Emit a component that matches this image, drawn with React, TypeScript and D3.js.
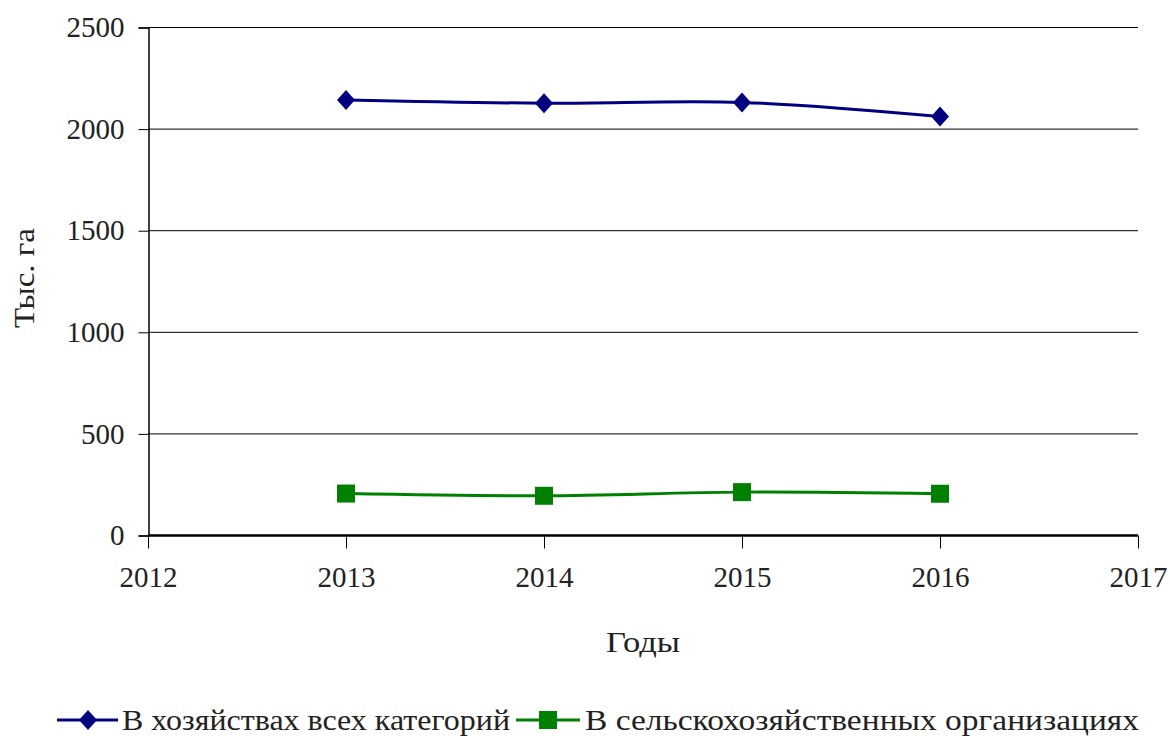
import * as d3 from 'd3';
import React, { useRef, useEffect } from 'react';

const years = [2013, 2014, 2015, 2016];
const allFarms = [2141, 2125, 2129, 2059];
const agriOrgs = [204, 193, 211, 203];
const yTicks = [0, 500, 1000, 1500, 2000, 2500];
const xTicks = [2012, 2013, 2014, 2015, 2016, 2017];
const seriesNames = ['В хозяйствах всех категорий', 'В сельскохозяйственных организациях'];

const App = () => {
  const ref = useRef<SVGSVGElement>(null);
  const width = 1170;
  const height = 736;
  const margin = { top: 27, right: 32, bottom: 201, left: 148 };
  const font = '"Liberation Serif", "Times New Roman", serif';

  useEffect(() => {
    const svg = d3.select(ref.current);
    svg.selectAll('*').remove();

    const x = d3.scaleLinear().domain([2012, 2017]).range([margin.left, width - margin.right]);
    const y = d3.scaleLinear().domain([0, 2500]).range([height - margin.bottom, margin.top]);

    // grid lines
    svg.append('g')
      .selectAll('line')
      .data(yTicks.filter((d) => d > 0))
      .join('line')
      .attr('x1', margin.left)
      .attr('x2', width - margin.right)
      .attr('y1', (d) => y(d) + 0.5)
      .attr('y2', (d) => y(d) + 0.5)
      .attr('stroke', '#000')
      .attr('stroke-width', 1);

    // Y axis
    const yAxis = svg.append('g')
      .attr('transform', 'translate(' + (margin.left + 0.5) + ',0.5)')
      .call(d3.axisLeft(y).tickValues(yTicks).tickSize(10).tickPadding(14).tickFormat(d3.format('d')));
    yAxis.select('.domain').attr('stroke', '#000').attr('stroke-width', 1.5);
    yAxis.selectAll('text').style('font-family', font).style('font-size', '29px').attr('fill', '#222');

    // X axis
    const xAxis = svg.append('g')
      .attr('transform', 'translate(0,' + (y(0) + 0.5) + ')')
      .call(d3.axisBottom(x).tickValues(xTicks).tickSize(13).tickPadding(18).tickFormat(d3.format('d')));
    xAxis.select('.domain').attr('stroke', '#000').attr('stroke-width', 2.5).attr('d', 'M' + margin.left + ',0H' + x(2017));
    xAxis.selectAll('text').style('font-family', font).style('font-size', '29px').attr('fill', '#222');

    // axis titles
    svg.append('text')
      .attr('x', (x(2012) + x(2017)) / 2)
      .attr('y', 652)
      .attr('text-anchor', 'middle')
      .attr('textLength', 74).attr('lengthAdjust', 'spacingAndGlyphs')
      .style('font-family', font).style('font-size', '29px').attr('fill', '#222')
      .text('Годы');
    svg.append('text')
      .attr('transform', 'translate(34,278) rotate(-90)')
      .attr('text-anchor', 'middle')
      .attr('textLength', 100).attr('lengthAdjust', 'spacingAndGlyphs')
      .style('font-family', font).style('font-size', '29px').attr('fill', '#222')
      .text('Тыс. га');

    const line = d3.line<number>()
      .x((d, i) => x(years[i]))
      .y((d) => y(d))
      .curve(d3.curveCatmullRom.alpha(0));

    const diamond = (cx: number, cy: number) =>
      `M${cx},${cy - 10}L${cx + 9},${cy}L${cx},${cy + 10}L${cx - 9},${cy}Z`;

    // series 1
    svg.append('path')
      .datum(allFarms)
      .attr('fill', 'none')
      .attr('stroke', '#000080')
      .attr('stroke-width', 3)
      .attr('d', line);
    svg.append('g')
      .selectAll('path')
      .data(allFarms)
      .join('path')
      .attr('d', (d, i) => diamond(x(years[i]), y(d)))
      .attr('fill', '#000080');

    // series 2
    svg.append('path')
      .datum(agriOrgs)
      .attr('fill', 'none')
      .attr('stroke', '#008000')
      .attr('stroke-width', 3)
      .attr('d', line);
    svg.append('g')
      .selectAll('rect')
      .data(agriOrgs)
      .join('rect')
      .attr('x', (d, i) => x(years[i]) - 9)
      .attr('y', (d) => y(d) - 9)
      .attr('width', 18)
      .attr('height', 18)
      .attr('fill', '#008000');

    // legend
    const ly = 720;
    const leg = svg.append('g');
    leg.append('line').attr('x1', 57).attr('x2', 118).attr('y1', ly).attr('y2', ly)
      .attr('stroke', '#000080').attr('stroke-width', 3);
    leg.append('path').attr('d', diamond(88, ly)).attr('fill', '#000080');
    leg.append('text').attr('x', 122).attr('y', ly + 10)
      .attr('textLength', 388).attr('lengthAdjust', 'spacingAndGlyphs')
      .style('font-family', font).style('font-size', '29px').attr('fill', '#222')
      .text(seriesNames[0]);
    leg.append('line').attr('x1', 516).attr('x2', 580).attr('y1', ly).attr('y2', ly)
      .attr('stroke', '#008000').attr('stroke-width', 3);
    leg.append('rect').attr('x', 539).attr('y', ly - 9).attr('width', 18).attr('height', 18).attr('fill', '#008000');
    leg.append('text').attr('x', 585).attr('y', ly + 10)
      .attr('textLength', 554).attr('lengthAdjust', 'spacingAndGlyphs')
      .style('font-family', font).style('font-size', '29px').attr('fill', '#222')
      .text(seriesNames[1]);
  });

  return (
    <svg ref={ref} width={width} height={height} style={{ display: 'block', position: 'absolute', left: 0, top: 0, background: '#fff' }}></svg>
  );
};

export default App;
